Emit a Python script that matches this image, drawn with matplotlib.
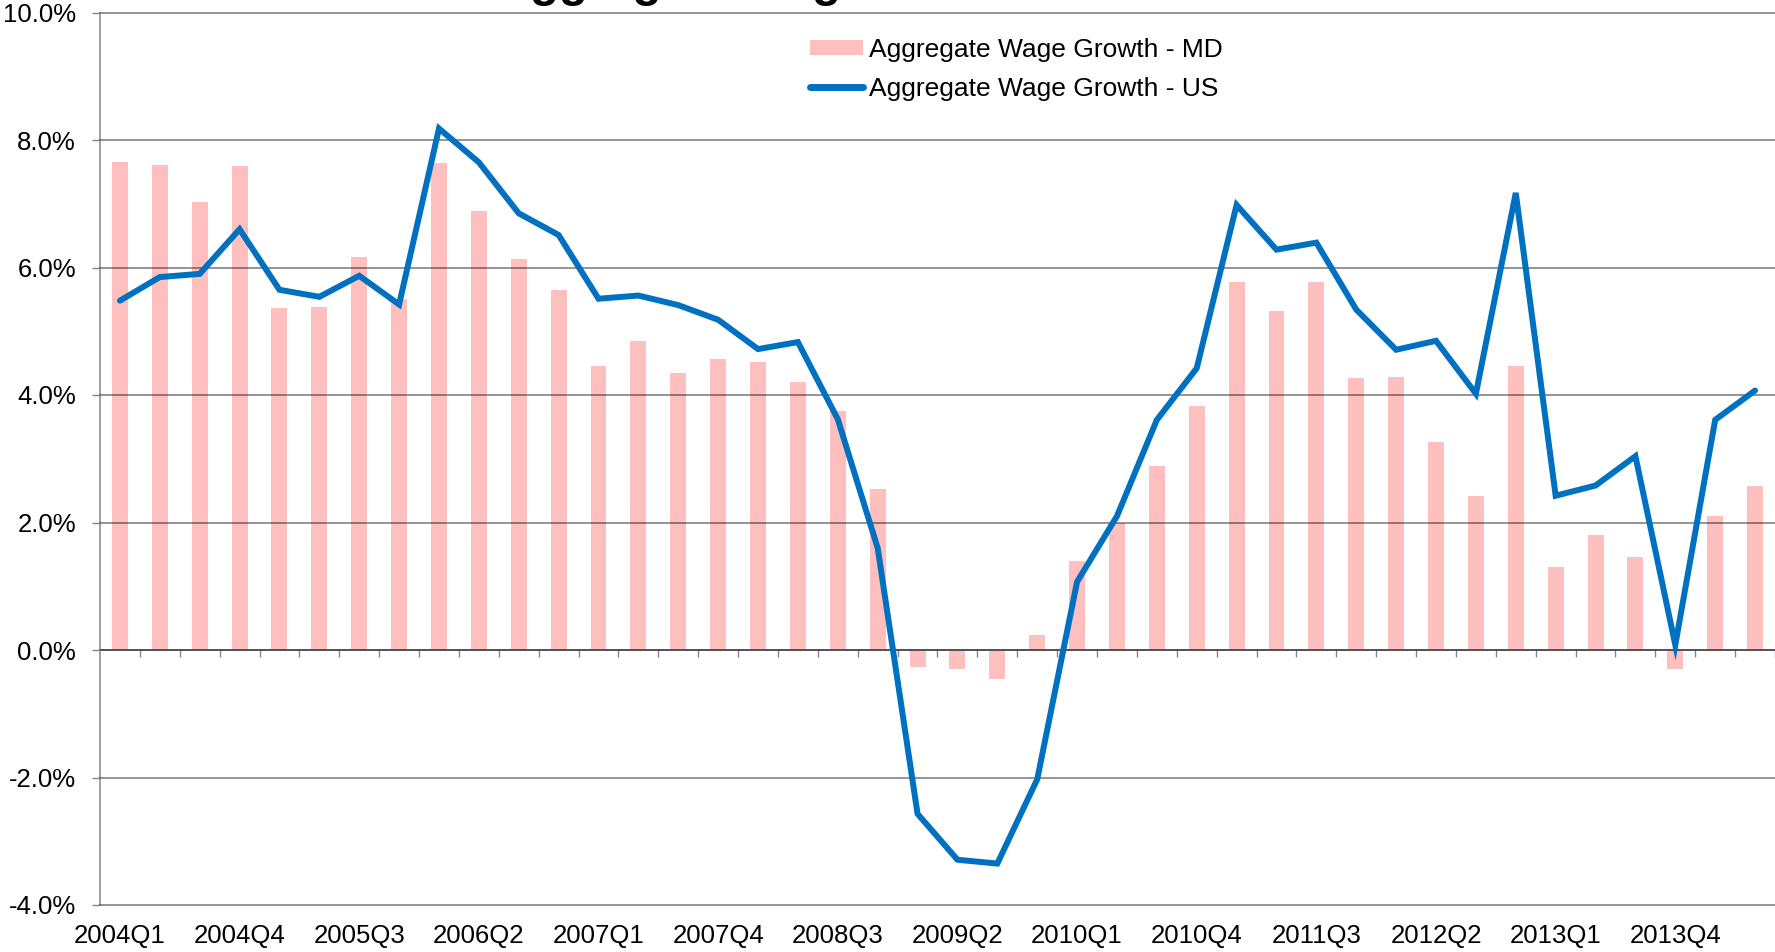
import matplotlib
matplotlib.use("Agg")
import matplotlib.pyplot as plt
from matplotlib.ticker import FuncFormatter

plt.rcParams['font.family'] = ['Liberation Sans', 'DejaVu Sans']

quarters = [f"{y}Q{q}" for y in range(2004, 2015) for q in range(1, 5)][:42]

md_growth = [7.66, 7.61, 7.03, 7.60, 5.36, 5.38, 6.16, 5.50, 7.64, 6.88,
             6.13, 5.65, 4.46, 4.85, 4.35, 4.57, 4.51, 4.21, 3.75, 2.53,
             -0.26, -0.30, -0.46, 0.23, 1.39, 1.99, 2.88, 3.83, 5.78, 5.32,
             5.78, 4.26, 4.29, 3.27, 2.42, 4.45, 1.30, 1.81, 1.46, -0.30,
             2.10, 2.58]

us_growth = [5.48, 5.85, 5.90, 6.60, 5.65, 5.54, 5.87, 5.42, 8.18, 7.65,
             6.85, 6.51, 5.51, 5.56, 5.41, 5.18, 4.72, 4.83, 3.62, 1.60,
             -2.57, -3.29, -3.35, -2.03, 1.07, 2.10, 3.61, 4.42, 6.98, 6.28,
             6.39, 5.34, 4.71, 4.85, 4.02, 7.17, 2.42, 2.58, 3.04, 0.08,
             3.61, 4.07]

W, H = 1775, 952
fig = plt.figure(figsize=(W / 100, H / 100), dpi=100)
ax = fig.add_axes([100 / W, 1 - 905 / H, 1 - 100 / W, (905 - 12.5) / H])

x = list(range(len(quarters)))
bars = ax.bar(x, md_growth, width=0.4, color='#FFBFBF', zorder=1,
              label='Aggregate Wage Growth - MD')
line, = ax.plot(x, us_growth, color='#0070C0', lw=4.3, zorder=3,
                solid_joinstyle='miter', solid_capstyle='round',
                label='Aggregate Wage Growth - US')

ax.set_xlim(-0.5, len(quarters) - 0.5)
ax.set_ylim(-4, 10)
ax.set_yticks(range(-4, 11, 2))
ax.yaxis.set_major_formatter(FuncFormatter(lambda v, p: f"{v:.1f}%"))
ax.yaxis.grid(True, color='black', alpha=0.45, lw=1.3, zorder=2)
for gl in ax.get_ygridlines():
    gl.set_clip_on(False)
ax.set_axisbelow(False)

for s in ['top', 'right']:
    ax.spines[s].set_visible(False)
ax.spines['left'].set_color('#868686')
ax.spines['left'].set_linewidth(1.1)
ax.spines['bottom'].set_position(('data', 0))
ax.spines['bottom'].set_visible(False)

ax.set_xticks([i + 0.5 for i in range(len(quarters))])
ax.tick_params(axis='x', which='both', length=5, width=1, color='#868686',
               direction='out', labelbottom=False)
ax.tick_params(axis='y', length=5.8, width=1, color='#868686', pad=11.5,
               labelsize=18.5)
ax.axhline(0, color='#868686', lw=1.3, zorder=2)

sec = ax.secondary_xaxis('bottom')
sec.set_xticks(x[::3], quarters[::3])
sec.tick_params(length=0, pad=14, labelsize=18.5)
sec.spines['bottom'].set_visible(False)

leg = fig.legend([bars, line], [bars.get_label(), line.get_label()],
                 loc='upper left', bbox_to_anchor=(810 / W, 1 - 38 / H),
                 frameon=False, fontsize=19, handlelength=2.0,
                 handleheight=0.52, handletextpad=0.22, labelspacing=0.55,
                 borderpad=0, borderaxespad=0)
leg.get_lines()[0].set_linewidth(5)
leg.get_lines()[0].set_solid_capstyle('round')

fig.text(496 / W, 1 + 4 / H, 'Aggregate Wage Growth', fontsize=34,
         fontweight='bold', va='baseline', ha='left')

fig.savefig('out.png', dpi=100)
